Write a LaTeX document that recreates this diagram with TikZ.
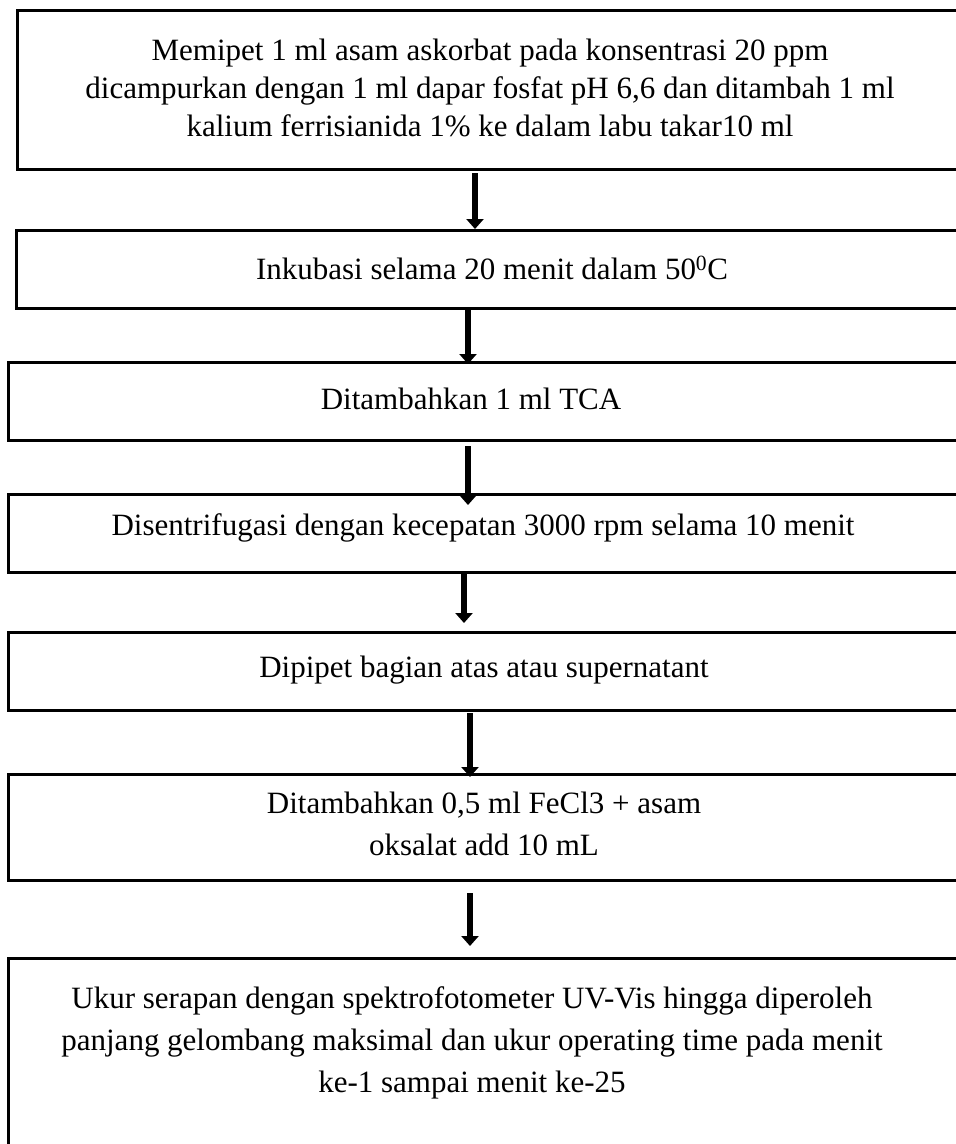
\documentclass[tikz,border=0pt]{standalone}
\usepackage{fontspec}
\setmainfont{Liberation Serif}
\usetikzlibrary{arrows.meta}
\tikzset{
  stepbox/.style={draw=black, line width=2.6pt, rectangle, inner sep=0pt, anchor=north west},
  steptext/.style={inner sep=0pt, align=center, font=\fontsize{31}{38}\selectfont},
  steptextwide/.style={inner sep=0pt, align=center, font=\fontsize{31}{42}\selectfont},
  flowarrow/.style={line width=6pt, -{Triangle[width=17pt,length=10pt]}},
}
\begin{document}
\begin{tikzpicture}[x=1pt,y=-1pt]
\useasboundingbox (0,0) rectangle (956,1144);
\clip (0,0) rectangle (956,1144);
% boxes
\node[stepbox, minimum width=950pt, minimum height=159pt] (b1) at (16,9) {};
\node[stepbox, minimum width=951pt, minimum height=78pt] (b2) at (15,229) {};
\node[stepbox, minimum width=959pt, minimum height=78pt] (b3) at (7,361) {};
\node[stepbox, minimum width=959pt, minimum height=78pt] (b4) at (7,493) {};
\node[stepbox, minimum width=959pt, minimum height=78pt] (b5) at (7,631) {};
\node[stepbox, minimum width=959pt, minimum height=106pt] (b6) at (7,773) {};
\node[stepbox, minimum width=959pt, minimum height=260pt] (b7) at (7,957) {};
% texts
\node[steptext] (t1) at (490,88) {Memipet 1 ml asam askorbat pada konsentrasi 20 ppm\\dicampurkan dengan 1 ml dapar fosfat pH 6,6 dan ditambah 1 ml\\kalium ferrisianida 1\% ke dalam labu takar10 ml};
\node[steptext] (t2) at (492,268) {Inkubasi selama 20 menit dalam 50\textsuperscript{0}C};
\node[steptext] (t3) at (471,399) {Ditambahkan 1 ml TCA};
\node[steptext] (t4) at (483,528) {Disentrifugasi dengan kecepatan 3000 rpm selama 10 menit};
\node[steptext] (t5) at (484,670) {Dipipet bagian atas atau supernatant};
\node[steptextwide] (t6) at (484,824) {Ditambahkan 0,5 ml FeCl3 + asam\\oksalat add 10 mL};
\node[steptextwide] (t7) at (472,1043) {Ukur serapan dengan spektrofotometer UV-Vis hingga diperoleh\\panjang gelombang maksimal dan ukur operating time pada menit\\ke-1 sampai menit ke-25};
% arrow end points
\coordinate (a1s) at (475,173); \coordinate (a1e) at (475,229);
\coordinate (a2s) at (468,309); \coordinate (a2e) at (468,364);
\coordinate (a3s) at (468,446); \coordinate (a3e) at (468,505);
\coordinate (a4s) at (464,571); \coordinate (a4e) at (464,623);
\coordinate (a5s) at (470,713); \coordinate (a5e) at (470,777);
\coordinate (a6s) at (470,893); \coordinate (a6e) at (470,946);
\draw[flowarrow] (a1s) -- (a1e);
\draw[flowarrow] (a2s) -- (a2e);
\draw[flowarrow] (a3s) -- (a3e);
\draw[flowarrow] (a4s) -- (a4e);
\draw[flowarrow] (a5s) -- (a5e);
\draw[flowarrow] (a6s) -- (a6e);
\end{tikzpicture}
\end{document}
